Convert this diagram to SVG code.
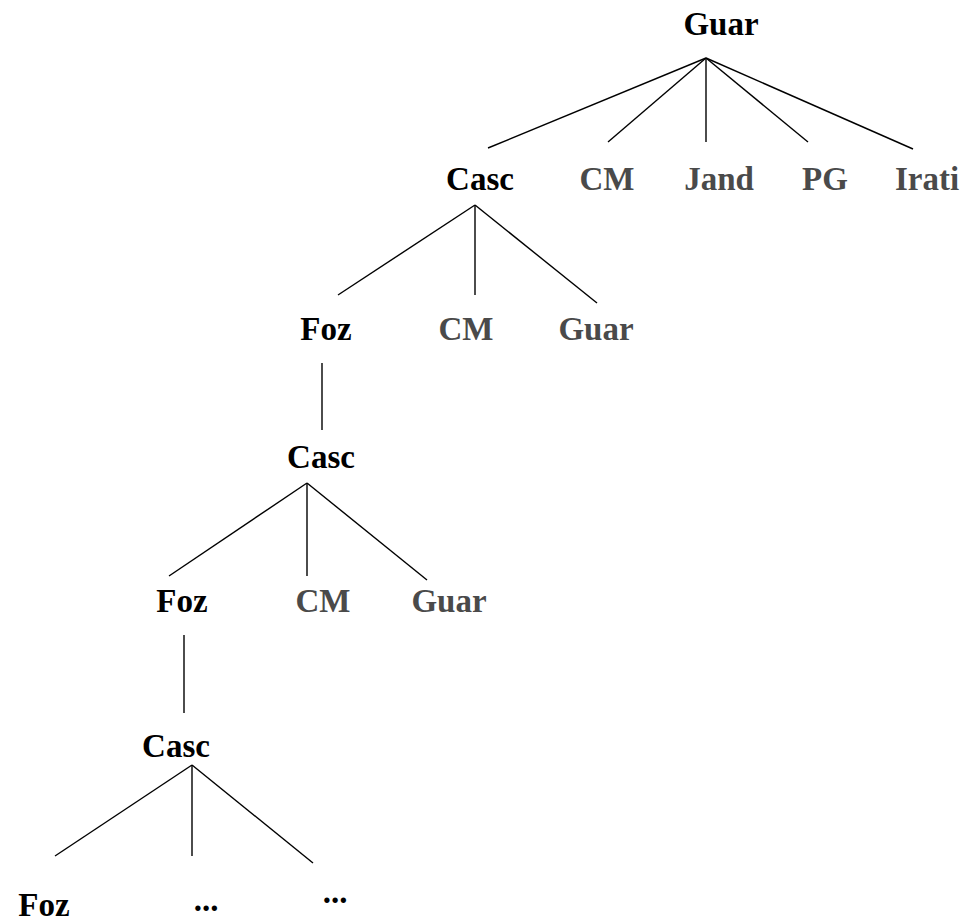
<svg xmlns="http://www.w3.org/2000/svg" width="974" height="922" viewBox="0 0 974 922">
  <style>
    text { font-family: "Liberation Serif", "Times New Roman", serif; font-weight: bold; font-size: 33px; text-anchor: middle; }
    .main { fill: #000; }
    .leaf { fill: #4a4a4a; }
    .edge { stroke: #000; stroke-width: 1.4; fill: none; }
  </style>
  <rect width="974" height="922" fill="#fff"/>

  <g id="connectors">
    <!-- root fan -->
    <line class="edge" x1="706" y1="58" x2="488" y2="148"/>
    <line class="edge" x1="706" y1="58" x2="608" y2="142"/>
    <line class="edge" x1="706" y1="58" x2="706" y2="142"/>
    <line class="edge" x1="706" y1="58" x2="808" y2="142"/>
    <line class="edge" x1="706" y1="58" x2="913" y2="149"/>
    <!-- first Casc -->
    <line class="edge" x1="475" y1="205" x2="338" y2="295"/>
    <line class="edge" x1="475" y1="205" x2="475" y2="295"/>
    <line class="edge" x1="475" y1="205" x2="597" y2="303"/>
    <line class="edge" x1="322" y1="363" x2="322" y2="430"/>
    <!-- second Casc -->
    <line class="edge" x1="307" y1="483" x2="169" y2="576"/>
    <line class="edge" x1="307" y1="483" x2="307" y2="576"/>
    <line class="edge" x1="307" y1="483" x2="427" y2="580"/>
    <line class="edge" x1="184" y1="635" x2="184" y2="713"/>
    <!-- third Casc -->
    <line class="edge" x1="192" y1="765" x2="55" y2="856"/>
    <line class="edge" x1="192" y1="765" x2="192" y2="856"/>
    <line class="edge" x1="192" y1="765" x2="313" y2="863"/>
  </g>

  <g id="n-guar-root"><text class="main" x="721" y="35">Guar</text></g>

  <g id="n-casc-1"><text class="main" x="480" y="190">Casc</text></g>
  <g id="n-cm-1"><text class="leaf" x="607" y="190">CM</text></g>
  <g id="n-jand"><text class="leaf" x="719" y="190">Jand</text></g>
  <g id="n-pg"><text class="leaf" x="825" y="190">PG</text></g>
  <g id="n-irati"><text class="leaf" x="927" y="190">Irati</text></g>

  <g id="n-foz-1"><text class="main" x="326" y="340">Foz</text></g>
  <g id="n-cm-2"><text class="leaf" x="466" y="340">CM</text></g>
  <g id="n-guar-2"><text class="leaf" x="596" y="340">Guar</text></g>

  <g id="n-casc-2"><text class="main" x="321" y="468">Casc</text></g>

  <g id="n-foz-2"><text class="main" x="182" y="612">Foz</text></g>
  <g id="n-cm-3"><text class="leaf" x="323" y="612">CM</text></g>
  <g id="n-guar-3"><text class="leaf" x="449" y="612">Guar</text></g>

  <g id="n-casc-3"><text class="main" x="176" y="757">Casc</text></g>

  <g id="n-foz-3"><text class="main" x="44" y="916">Foz</text></g>
  <g id="n-more-1"><text class="main" x="206" y="911">...</text></g>
  <g id="n-more-2"><text class="main" x="335" y="903">...</text></g>
</svg>
